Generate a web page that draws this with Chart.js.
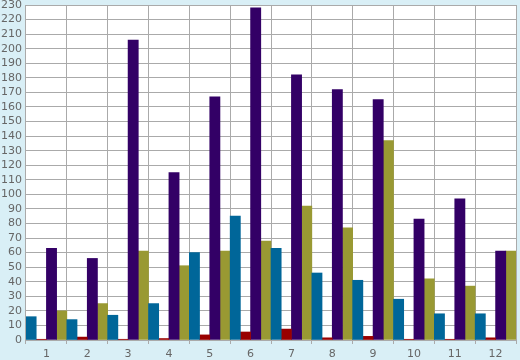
<!DOCTYPE html>
<html>
<head>
<meta charset="utf-8">
<script src="https://cdn.jsdelivr.net/npm/chart.js@4"></script>
<style>
  html, body { margin: 0; padding: 0; background: #d9eff6; }
  #wrap { width: 520px; height: 360px; }
</style>
</head>
<body>
<div id="wrap"><canvas id="chart" width="520" height="360"></canvas></div>
<script>
// Data
const categories = ['1', '2', '3', '4', '5', '6', '7', '8', '9', '10', '11', '12'];
const blueValues = [16, 14, 17, 25, 60, 85, 63, 46, 41, 28, 18, 18];
const redValues = [0.5, 2, 0.5, 1, 3.5, 5.5, 7.5, 1.5, 2.5, 0.5, 0.5, 1.5];
const purpleValues = [63, 56, 206, 115, 167, 228, 182, 172, 165, 83, 97, 61];
const oliveValues = [20, 25, 61, 51, 61, 68, 92, 77, 137, 42, 37, 61];
const yMin = 0;
const yMax = 230;
const yStep = 10;

// Paint page background and white plot area
const bgPlugin = {
    id: 'bg',
    beforeDraw: function(chart) {
        const ctx = chart.ctx;
        const a = chart.chartArea;
        ctx.save();
        ctx.fillStyle = '#d9eff6';
        ctx.fillRect(0, 0, chart.width, chart.height);
        ctx.fillStyle = '#ffffff';
        ctx.fillRect(a.left, a.top, a.right - a.left, a.bottom - a.top);
        ctx.restore();
    }
};

function makeSet(label, data, color) {
    return {
        label: label,
        data: data,
        backgroundColor: color,
        borderWidth: 0,
        barPercentage: 1,
        categoryPercentage: 1
    };
}

new Chart(document.getElementById('chart').getContext('2d'), {
    type: 'bar',
    data: {
        labels: categories,
        datasets: [
            makeSet('A', blueValues, '#006699'),
            makeSet('B', redValues, '#990000'),
            makeSet('C', purpleValues, '#330066'),
            makeSet('D', oliveValues, '#999933')
        ]
    },
    options: {
        responsive: false,
        animation: false,
        layout: { padding: { top: 5, right: 4, left: 0, bottom: 0 } },
        plugins: {
            legend: { display: false },
            tooltip: { enabled: false }
        },
        scales: {
            x: {
                grid: {
                    offset: true,
                    color: '#aaaaaa',
                    lineWidth: 1,
                    drawTicks: true,
                    tickLength: 4
                },
                border: { display: false },
                ticks: {
                    color: '#666666',
                    font: { family: 'DejaVu Sans', size: 11 },
                    padding: 4,
                    maxRotation: 0,
                    autoSkip: false
                },
                afterFit: function(scale) { scale.height = 20; }
            },
            y: {
                min: yMin,
                max: yMax,
                grid: {
                    color: '#aaaaaa',
                    lineWidth: 1,
                    drawTicks: false
                },
                border: { display: false },
                ticks: {
                    stepSize: yStep,
                    autoSkip: false,
                    color: '#666666',
                    font: { family: 'DejaVu Sans', size: 11 },
                    padding: 4
                },
                afterFit: function(scale) {
                    scale.width = 26;
                    scale.paddingTop = 0;
                    scale.paddingBottom = 0;
                }
            }
        }
    },
    plugins: [bgPlugin]
});
</script>
</body>
</html>
